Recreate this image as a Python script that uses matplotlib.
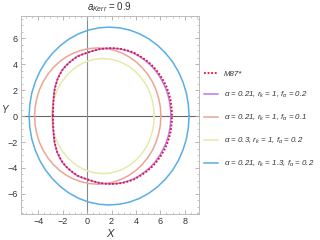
import numpy as np
import matplotlib
matplotlib.use('Agg')
import matplotlib.pyplot as plt
from matplotlib.ticker import MultipleLocator

# upper halves of the shadow contours, mirrored below
m87_x = [-2.80, -2.78, -2.76, -2.72, -2.66, -2.56, -2.43, -2.23, -2.0, -1.75, -1.5, -1.15, -0.8, -0.4, 0.0,
         0.5, 1.0, 1.45, 1.9, 2.35, 2.8, 3.3, 3.8, 4.3, 4.8, 5.25, 5.65, 6.0, 6.3, 6.53, 6.7, 6.83, 6.9, 6.94, 6.95]
m87_y = [0.0, 0.5, 1.0, 1.5, 2.0, 2.4, 2.8, 3.2, 3.58, 3.85, 4.08, 4.35, 4.58, 4.74, 4.87,
         5.02, 5.15, 5.21, 5.23, 5.22, 5.17, 5.06, 4.9, 4.64, 4.32, 3.97, 3.57, 3.12, 2.65, 2.2, 1.72, 1.25, 0.8, 0.4, 0.0]

c1_x = [-2.83, -2.81, -2.78, -2.74, -2.68, -2.58, -2.45, -2.25, -2.0, -1.76, -1.5, -1.16, -0.8, -0.4, 0.0,
        0.5, 1.0, 1.45, 1.9, 2.35, 2.8, 3.3, 3.8, 4.3, 4.8, 5.22, 5.6, 5.93, 6.2, 6.43, 6.6, 6.72, 6.8, 6.84, 6.85]
c1_y = [0.0, 0.5, 1.0, 1.5, 2.0, 2.4, 2.8, 3.22, 3.6, 3.86, 4.1, 4.36, 4.6, 4.75, 4.88,
        5.03, 5.15, 5.2, 5.22, 5.2, 5.15, 5.02, 4.85, 4.58, 4.25, 3.9, 3.5, 3.06, 2.6, 2.15, 1.7, 1.25, 0.8, 0.4, 0.0]

c2_x = [6.04, 6.00, 5.86, 5.65, 5.35, 4.97, 4.53, 4.02, 3.46, 2.85, 2.21, 1.55, 0.87,
        0.195, -0.47, -1.11, -1.72, -2.28, -2.79, -3.23, -3.61, -3.91, -4.12, -4.26, -4.30]
c2_y = [0.0, 0.685, 1.36, 2.01, 2.63, 3.20, 3.71, 4.17, 4.55, 4.85, 5.07, 5.20, 5.25,
        5.20, 5.07, 4.85, 4.55, 4.17, 3.71, 3.20, 2.63, 2.01, 1.36, 0.685, 0.0]

c3_x = [5.5, 5.46, 5.36, 5.18, 4.94, 4.63, 4.27, 3.86, 3.4, 2.91, 2.39, 1.85, 1.3,
        0.75, 0.21, -0.31, -0.8, -1.26, -1.67, -2.03, -2.34, -2.58, -2.76, -2.86, -2.9]
c3_y = [0.0, 0.578, 1.15, 1.70, 2.22, 2.70, 3.13, 3.51, 3.84, 4.09, 4.28, 4.39, 4.43,
        4.39, 4.28, 4.09, 3.84, 3.51, 3.13, 2.70, 2.22, 1.70, 1.15, 0.578, 0.0]

c4_x = [8.35, 8.29, 8.13, 7.85, 7.47, 7.00, 6.43, 5.79, 5.08, 4.31, 3.50, 2.66, 1.8,
        0.95, 0.10, -0.71, -1.48, -2.19, -2.83, -3.40, -3.87, -4.25, -4.53, -4.69, -4.75]
c4_y = [0.0, 0.894, 1.77, 2.62, 3.43, 4.17, 4.84, 5.43, 5.93, 6.33, 6.62, 6.79, 6.85,
        6.79, 6.62, 6.33, 5.93, 5.43, 4.84, 4.17, 3.43, 2.62, 1.77, 0.894, 0.0]

labels = ['M87*',
          r'$\alpha$ = 0.21, $r_k$ = 1, $f_\alpha$ = 0.2',
          r'$\alpha$ = 0.21, $r_k$ = 1, $f_\alpha$ = 0.1',
          r'$\alpha$ = 0.3, $r_k$ = 1, $f_\alpha$ = 0.2',
          r'$\alpha$ = 0.21, $r_k$ = 1.3, $f_\alpha$ = 0.2']


def closed(xs, ys):
    xs = np.array(xs)
    ys = np.array(ys)
    return np.concatenate([xs, xs[::-1]]), np.concatenate([ys, -ys[::-1]])


plt.rcParams['font.family'] = ['Liberation Sans', 'DejaVu Sans']
plt.rcParams['mathtext.fontset'] = 'custom'
plt.rcParams['mathtext.rm'] = 'Liberation Sans'
plt.rcParams['mathtext.it'] = 'Liberation Sans:italic'
plt.rcParams['mathtext.fallback'] = 'stixsans'
plt.rcParams['axes.unicode_minus'] = True
fig = plt.figure(figsize=(3.2, 2.4), dpi=100)
ax = fig.add_axes([0.065, 0.108, 0.556, 0.825])

ax.axhline(0, color='#666666', lw=0.8, zorder=1)
ax.axvline(0, color='#888888', lw=0.8, zorder=1)

curves = [(c4_x, c4_y, '#5aaee6'), (c2_x, c2_y, '#eaa595'), (c3_x, c3_y, '#e3ebaa'),
          (c1_x, c1_y, '#b77af0')]
handles = {}
for xs, ys, col in curves:
    X, Y = closed(xs, ys)
    handles[col], = ax.plot(X, Y, color=col, lw=1.1, zorder=2)
X, Y = closed(m87_x, m87_y)
hm, = ax.plot(X, Y, color='#e8102a', lw=1.3, ls=(0, (1.0, 1.0)), zorder=3)

ax.set_xlim(-5.43, 9.14)
ax.set_ylim(-7.55, 7.7)
ax.xaxis.set_major_locator(MultipleLocator(2))
ax.xaxis.set_minor_locator(MultipleLocator(0.5))
ax.yaxis.set_major_locator(MultipleLocator(2))
ax.yaxis.set_minor_locator(MultipleLocator(0.5))
ax.tick_params(which='both', direction='in', top=True, right=True, color='#aaaaaa',
               labelsize=6.5, labelcolor='#333333', pad=2)
ax.tick_params(which='major', length=3, width=0.6)
ax.tick_params(which='minor', length=1.5, width=0.5)
for s in ax.spines.values():
    s.set_color('#bbbbbb')
    s.set_linewidth(0.7)

ax.set_title(r'$a_{Kerr}$ = 0.9', fontsize=7, color='#333333', pad=4)
ax.set_xlabel('X', fontsize=8, style='italic', color='#333333', labelpad=2)
ax.set_ylabel('Y', fontsize=7, style='italic', color='#333333', rotation=0, labelpad=1)
ax.yaxis.set_label_coords(-0.09, 0.5)

order = [hm, handles['#b77af0'], handles['#eaa595'], handles['#e3ebaa'], handles['#5aaee6']]
leg = fig.legend(order, labels, loc='center left', bbox_to_anchor=(0.637, 0.502),
                 frameon=False, fontsize=5.7, handlelength=1.8, handletextpad=0.7,
                 labelspacing=1.6, borderpad=0, borderaxespad=0)
for t in leg.get_texts():
    t.set_style('italic')
    t.set_color('#333333')

fig.savefig('out.png', dpi=100)
